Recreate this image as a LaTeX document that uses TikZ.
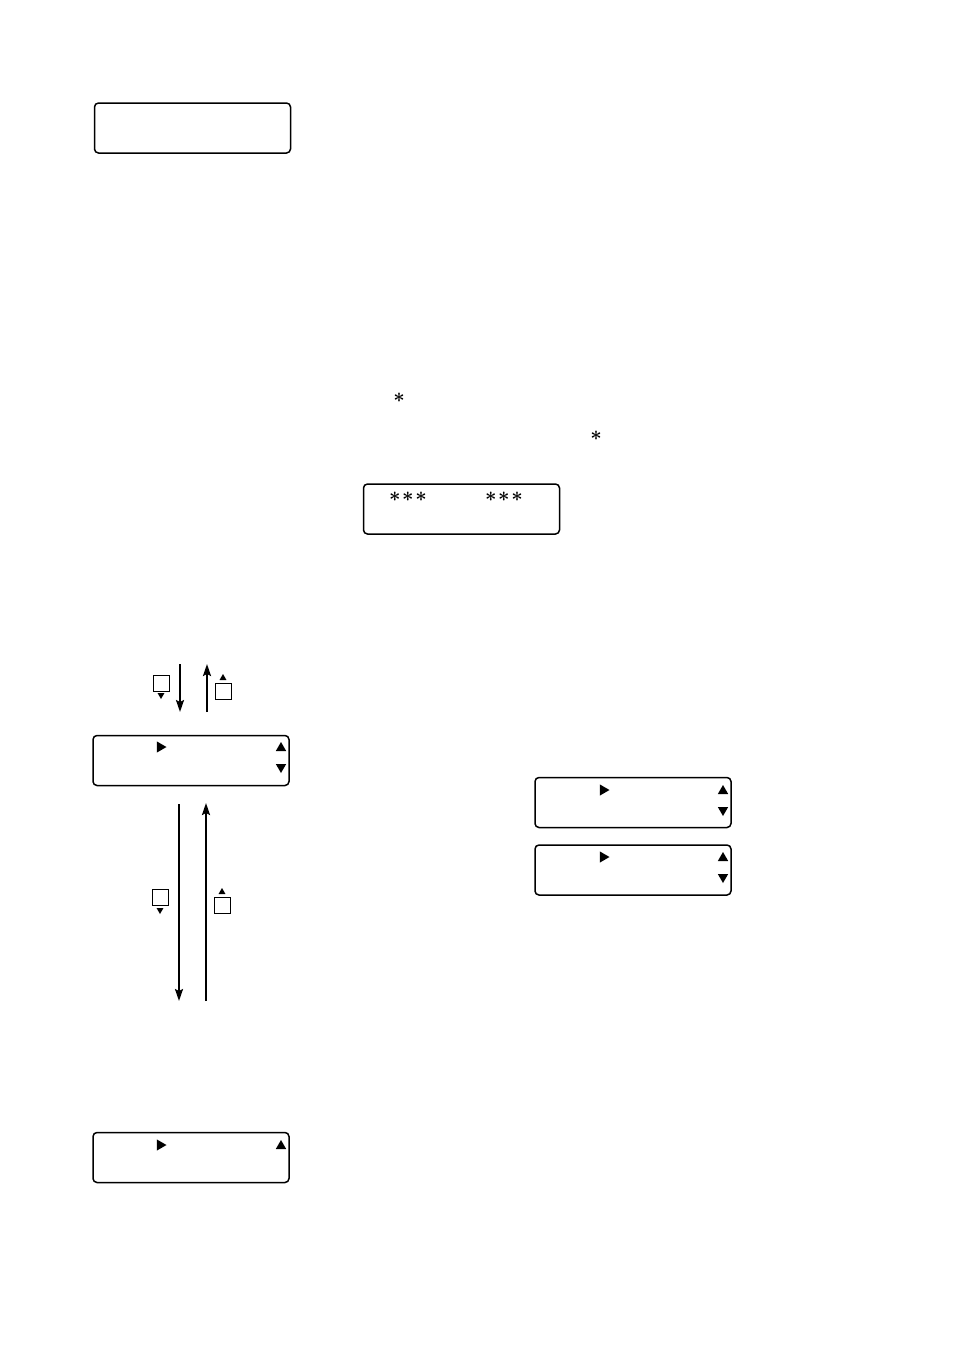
\documentclass[tikz,border=0pt]{standalone}
\usepackage{amsmath}
\usetikzlibrary{arrows.meta,positioning}
\tikzset{
  display/.style={draw,line width=0.75pt,rounded corners=2pt,minimum width=98pt,minimum height=25pt,inner sep=0pt},
  key/.style={draw,line width=0.5pt,minimum size=8pt,inner sep=0pt},
  flow/.style={line width=1pt,-{Stealth[length=6pt,width=4pt,inset=1pt]}},
  star/.style={font=\normalsize}
}
\newcommand{\lcdtri}[3]{\fill[shift={(#1)},rotate=#2] (0:#3) -- (120:#3) -- (240:#3) -- cycle;}
\newcommand{\lcdstar}{{\boldsymbol{\ast}}}

\begin{document}
\begin{tikzpicture}[x=0.5pt,y=0.5pt]
\useasboundingbox (0,0) rectangle (954,-1350);
% displays
\node[display] (D1) at (192.5,-128) {};
\node[display] (D2) at (461.5,-509) {};
\node[display] (D3) at (191,-760.5) {};
\node[display] (D4) at (633,-802.5) {};
\node[display] (D5) at (633,-870) {};
\node[display] (D6) at (191,-1157.5) {};
% asterisks
\node[star] (S1) at (399,-398) {$\lcdstar$};
\node[star] (S2) at (596,-436) {$\lcdstar$};
\node[star] (S3) at (408,-497) {$\lcdstar\mkern1.5mu\lcdstar\mkern1.5mu\lcdstar$};
\node[star] (S4) at (504,-497) {$\lcdstar\mkern1.5mu\lcdstar\mkern1.5mu\lcdstar$};
% triangles in displays
\lcdtri{160,-747}{0}{6.5}
\lcdtri{281,-748}{90}{6}
\lcdtri{281,-767}{-90}{6}
\lcdtri{603,-790}{0}{6.5}
\lcdtri{723,-791}{90}{6}
\lcdtri{723,-810}{-90}{6}
\lcdtri{603,-857}{0}{6.5}
\lcdtri{723,-858}{90}{6}
\lcdtri{723,-877}{-90}{6}
\lcdtri{160,-1145}{0}{6.5}
\lcdtri{281,-1146}{90}{6}
% short arrows
\coordinate (A1) at (180,-664);
\coordinate (B1) at (180,-712);
\draw[flow] (A1) -- (B1);
\coordinate (A2) at (207,-712);
\coordinate (B2) at (207,-664);
\draw[flow] (A2) -- (B2);
\node[key] (K1) at (161,-683) {};
\lcdtri{161,-695}{-90}{4}
\node[key] (K2) at (223,-691) {};
\lcdtri{223,-678}{90}{4}
% long arrows
\coordinate (A3) at (179,-804);
\coordinate (B3) at (179,-1001);
\draw[flow] (A3) -- (B3);
\coordinate (A4) at (206,-1001);
\coordinate (B4) at (206,-803);
\draw[flow] (A4) -- (B4);
\node[key] (K3) at (160,-897) {};
\lcdtri{160,-910}{-90}{4}
\node[key] (K4) at (222,-905) {};
\lcdtri{222,-892}{90}{4}
\end{tikzpicture}
\end{document}
